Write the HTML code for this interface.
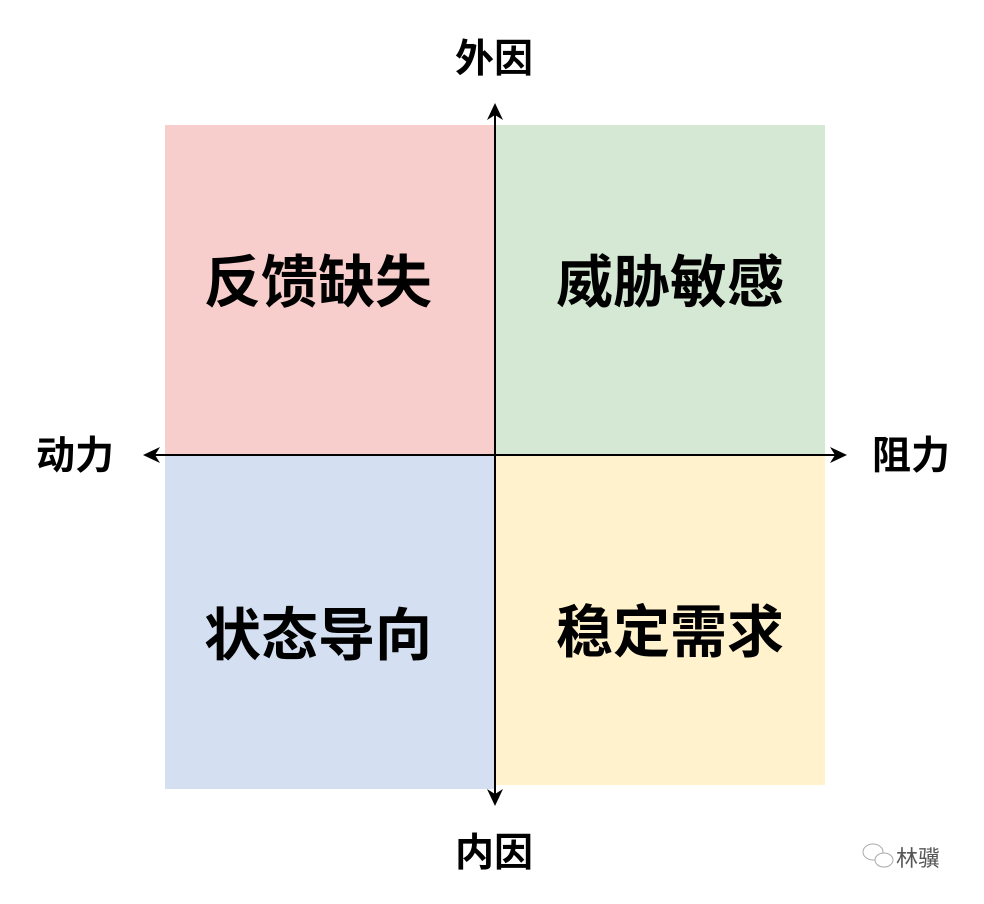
<!DOCTYPE html>
<html><head><meta charset="utf-8"><style>
body{margin:0;width:984px;height:899px;background:#fff;overflow:hidden}
text{font-family:"Liberation Sans","Noto Sans CJK SC",sans-serif;font-weight:bold;fill:#000}
</style></head><body>
<svg width="984" height="899" xmlns="http://www.w3.org/2000/svg">
<rect x="165" y="125" width="330" height="330" fill="#f8cecc"/>
<rect x="495" y="125" width="330" height="330" fill="#d5e8d4"/>
<rect x="165" y="455" width="330" height="334" fill="#d4e0f1"/>
<rect x="495" y="455" width="330" height="330" fill="#fff2cc"/>
<line x1="495" y1="110" x2="495" y2="800" stroke="#000" stroke-width="2"/>
<line x1="150" y1="455" x2="840" y2="455" stroke="#000" stroke-width="2"/>
<polygon points="495,103 487,120 495,115 503,120" fill="#000"/>
<polygon points="495,806 487,789 495,794 503,789" fill="#000"/>
<polygon points="143,455 160,447 155,455 160,463" fill="#000"/>
<polygon points="847,455 830,447 835,455 830,463" fill="#000"/>
<g font-size="57" text-anchor="middle">
<text x="318" y="302">反馈缺失</text>
<text x="670" y="302">威胁敏感</text>
<text x="318" y="655">状态导向</text>
<text x="670" y="652">稳定需求</text>
</g>
<g font-size="39" text-anchor="middle">
<text x="494" y="72">外因</text>
<text x="494" y="866">内因</text>
<text x="75" y="469">动力</text>
<text x="911" y="469">阻力</text>
</g>
<g fill="none" stroke="#aaa" stroke-width="1">
<ellipse cx="873" cy="852" rx="10" ry="8"/>
<ellipse cx="884" cy="860" rx="9" ry="7" fill="#fff"/>
</g>
<text x="896" y="866" font-size="22" style="font-weight:normal;fill:#555">林骥</text>
</svg>
</body></html>
